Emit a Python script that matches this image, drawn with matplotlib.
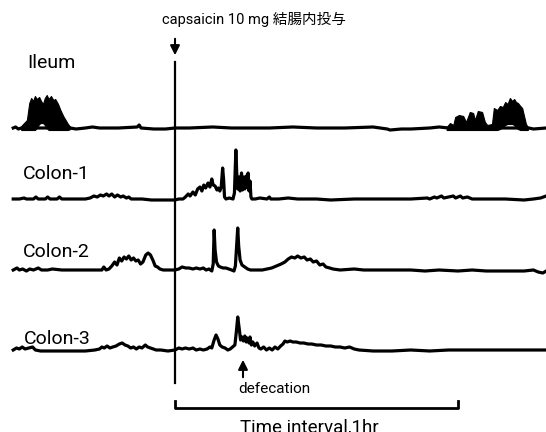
import numpy as np
import matplotlib
matplotlib.use("Agg")
import matplotlib.pyplot as plt

plt.rcParams['font.family'] = ['Roboto', 'Noto Sans CJK JP', 'DejaVu Sans']

# время в минутах от введения капсаицина, амплитуда в условных единицах
ileum_t = [-34.3, -33.8, -33.2, -32.6, -22.2, -21.0, -19.0, -17.5, -16.0, -12.0, -8.0, -7.6, -7.2,
           -4.5, -2.0, 0, 3, 8, 12, 20, 25, 30, 36, 42, 45, 45.6, 48, 50, 54, 56, 58, 75, 76, 78.7]
ileum_v = [0, 1, -1, 0, 0, -1, 0, 1, 0, 0, 1, 3, 0,
           -1, -1, 0, 0, 1, 0, 0, 1, 0, 0, 1, -1, -2, -1, -1, 0, 1, 0, 0, -1, 0]

# пачки сокращений подвздошной кишки (огибающие)
burst1_t = [-32.6, -32.0, -31.4, -30.9, -30.5, -30.1, -29.7, -29.3, -28.8, -28.4, -28.0, -27.6,
            -27.2, -26.8, -26.3, -25.8, -25.4, -24.8, -24.3, -23.7, -23.2, -22.7, -22.2]
burst1_hi = [2, 5, 8, 25, 30, 27, 32, 29, 31, 27, 24, 30,
             33, 29, 32, 28, 29, 24, 18, 12, 8, 4, 1]
burst1_lo = [-2, -2, -2, -2, -2, -2, -2, 0, 4, 5, 5, 3,
             0, -2, -2, -2, -2, -2, -2, -2, -2, -2, -1]

burst2_t = [57.6, 58.3, 59.0, 59.4, 60.2, 61.1, 61.7, 62.5, 63.2, 63.6, 64.2, 65.1, 65.7,
            66.2, 67.2, 67.6, 68.3, 68.9, 69.5, 70.0, 70.5, 71.0, 71.5, 71.9, 72.3, 72.7, 73.2,
            73.6, 74.0, 74.4, 74.8]
burst2_hi = [1, 5, 3, 11, 13, 12, 6, 16, 15, 8, 17, 16, 6,
             3, 4, 20, 18, 22, 21, 26, 24, 30, 27, 29, 26, 25, 22,
             20, 12, 4, 1]
burst2_lo = [-2, -2, -2, -2, -2, -2, -2, -2, -2, -2, -2, -2, -2,
             -2, -2, -2, -2, -1, 1, 3, 4, 4, 4, 3, 1, -1, -2,
             -2, -2, -2, -2]

colon1_t = [-34.3, -33.0, -32.0, -31.5, -30.0, -29.5, -29.0, -27.5, -27.0, -26.5, -25.0, -24.5,
            -24.0, -21.0, -19.0, -18.0, -17.2, -16.5, -15.8, -15.2, -14.5, -14.0, -13.4, -12.8,
            -12.2, -11.5, -11.0, -10.3, -9.8, -9.3, -7.0, -5.0, -3.0, -1.0, 0, 0.8, 1.7, 2.2,
            2.8, 3.2, 3.8, 4.3, 4.8, 5.3, 5.7, 6.1, 6.5, 7.0, 7.4, 7.8, 8.1, 8.5, 8.9, 9.2,
            9.5, 9.8, 10.1, 10.3, 10.5, 10.8, 11.5, 12.3, 12.6, 12.9, 13.1, 13.3, 13.6, 13.8,
            14.1, 14.3, 14.6, 14.8, 15.1, 15.3, 15.5, 15.7, 15.9, 16.1, 16.3, 17.0, 18.0, 19.5,
            20.0, 20.3, 22, 24, 26, 30, 33, 38, 45, 50, 53.5, 54, 55, 55.5, 56.5, 57, 58, 59,
            59.5, 60.5, 61, 62, 63, 66, 70, 74, 76, 77.5, 78.7]
colon1_v = [0, 0, 1, 0, 0, 2, 0, 0, 2, 0, 0, 2,
            0, 0, 0, 1, 3, 2, 4, 3, 5, 3, 5, 2,
            4, 2, 3, 1, 2, 0, 0, -1, -1, -1, -1, 0, 0, 2,
            5, 3, 7, 4, 10, 12, 8, 14, 11, 16, 12, 20, 14, 13, 9, 11,
            8, 12, 31, 20, 2, 0, 1, 0, 6, 49, 25, 10, 22, 8,
            26, 9, 22, 10, 23, 12, 26, 8, 18, 2, 0, 0, 1, 0,
            2, 0, 0, 1, 0, 0, -1, 0, 0, 0, 1, 0, 2, 1, 3, 1, 2, 3,
            1, 3, 1, 2, 0, 0, 0, -1, 0, 1, 3]

colon2_t = [-34.3, -33.5, -33.0, -32.3, -31.5, -30.8, -30.0, -29.0, -28.3, -27.0, -26.0, -24.0,
            -20.0, -17.0, -15.5, -15.1, -14.6, -14.0, -13.4, -12.8, -12.3, -11.8, -11.3, -10.8,
            -10.3, -9.8, -9.3, -8.8, -8.3, -7.8, -7.3, -6.8, -6.2, -5.7, -5.2, -4.7, -4.2, -3.7,
            -3.2, -2.5, -1.5, 0, 0.8, 1.5, 2.3, 3.0, 3.8, 4.5, 5.3, 6.0, 6.6, 7.2, 7.8, 8.1,
            8.3, 8.5, 8.8, 9.2, 9.6, 10.2, 10.8, 11.4, 12.0, 12.5, 12.8, 13.3, 13.5, 13.8, 14.2,
            14.8, 15.4, 16.0, 17, 18.5, 19.5, 20.5, 21.5, 22.5, 23.3, 24.0, 24.7, 25.4, 26.0,
            26.7, 27.4, 28.0, 28.7, 29.3, 30.0, 30.7, 31.4, 32.0, 32.8, 33.5, 35, 38, 40, 45,
            50, 53, 56, 60, 63, 66, 70, 74, 76, 77.0, 78.0, 78.7]
colon2_v = [0, 2, 0, 1, -1, 1, 0, 2, 0, 0, 1, 0,
            0, 0, 0, 3, 0, 1, 4, 8, 5, 12, 9, 13,
            11, 14, 10, 12, 9, 10, 6, 8, 15, 17, 15, 10, 4, 3,
            1, 0, 0, 0, 1, 3, 2, 2, 1, 2, 1, 2, 0, 1, -1, 6,
            40, 20, 8, 4, 3, 2, 2, 1, 0, -1, 4, 42, 24, 10, 5,
            3, 1, 0, 0, 0, 1, 2, 4, 6, 8, 11, 13, 12, 14,
            12, 13, 10, 11, 8, 9, 5, 6, 3, 2, 1, 0, 1, 0, 0,
            0, -1, 0, -1, 0, -1, -1, -1, 0, -2, -3, -1]

colon3_t = [-34.3, -33.6, -33.0, -32.4, -31.8, -31.0, -30.2, -29.6, -28.5, -26, -22, -19, -17,
            -16.0, -15.5, -15.0, -14.4, -13.8, -13.2, -12.5, -11.8, -11.2, -10.6, -10.0, -9.4,
            -8.8, -8.2, -7.6, -7.0, -6.3, -5.8, -5.2, -4.6, -4.0, -3.0, -1.5, 0, 0.8, 1.5, 2.2,
            3.0, 3.8, 4.5, 5.3, 6.0, 6.8, 7.4, 7.8, 8.3, 8.7, 9.1, 9.5, 10.0, 10.6, 11.2, 11.7,
            12.2, 12.7, 13.0, 13.3, 13.6, 13.9, 14.2, 14.5, 14.8, 15.1, 15.3, 15.7, 15.9, 16.2,
            16.5, 16.9, 17.4, 17.8, 18.2, 18.8, 19.4, 20.0, 20.6, 21.2, 21.8, 22.4, 22.9, 23.3,
            23.8, 24.4, 25.0, 25.7, 26.5, 27.3, 28.2, 29.0, 30.0, 31.0, 32.0, 33.0, 34.0, 35.0,
            36.0, 37.0, 38.0, 39.0, 42, 46, 50, 54, 58, 62, 66, 70, 74, 78.7]
colon3_v = [0, 2, 1, 3, 1, 2, 3, 0, -1, -1, -1, -1, 0,
            1, 3, 2, 4, 2, 3, 4, 6, 7, 5, 4, 2,
            3, 1, 3, 2, 5, 3, 2, 1, 0, 0, -1, 0, 2, 1, 2,
            1, 2, 0, 1, 0, 1, 3, 2, 10, 15, 11, 5, 3, 2, 0, 1,
            3, 5, 18, 33, 22, 10, 13, 9, 14, 8, 12, 7, 13, 5,
            8, 4, 7, 2, 1, 3, 0, 2, 0, 3, 1, 4, 6, 9,
            8, 9, 8, 8, 7, 7, 6, 6, 5, 5, 4, 4, 3, 3,
            2, 3, 1, 0, -1, -1, 0, -1, 0, 0, 0, 0, 0, 0]

# раскладка: 1 час = 283 px, базовые линии каналов в пикселях снизу
px_per_min = 283 / 60
x0 = -175 / px_per_min
x1 = (546 - 175) / px_per_min
base_ileum, base_c1, base_c2, base_c3 = 304, 233, 162, 82

fig = plt.figure(figsize=(5.46, 4.32), dpi=100, facecolor='white')
ax = fig.add_axes([0, 0, 1, 1])
ax.set_xlim(x0, x1)
ax.set_ylim(0, 432)
ax.axis('off')

lw = 2.3
ax.plot(ileum_t, np.array(ileum_v) + base_ileum, color='black', lw=lw)
ax.fill_between(burst1_t, np.array(burst1_lo) + base_ileum, np.array(burst1_hi) + base_ileum,
                color='black', lw=0.8)
ax.fill_between(burst2_t, np.array(burst2_lo) + base_ileum, np.array(burst2_hi) + base_ileum,
                color='black', lw=0.8)
ax.plot(colon1_t, np.array(colon1_v) + base_c1, color='black', lw=lw)
ax.plot(colon2_t, np.array(colon2_v) + base_c2, color='black', lw=lw)
ax.plot(colon3_t, np.array(colon3_v) + base_c3, color='black', lw=lw)

# линия момента введения
ax.plot([0, 0], [49, 370], color='black', lw=1.6)
ax.annotate('', xy=(0, 374), xytext=(0, 396),
            arrowprops=dict(arrowstyle='-|>', color='black', lw=1.5, mutation_scale=14))
ax.text(-2.76, 413, 'capsaicin 10 mg 結腸内投与', fontsize=10.5, ha='left', va='center')

# дефекация
t_def = (243 - 175) / px_per_min
ax.annotate('', xy=(t_def, 75), xytext=(t_def, 52),
            arrowprops=dict(arrowstyle='-|>', color='black', lw=1.5, mutation_scale=14))
ax.text(13.4, 43, 'defecation', fontsize=11, ha='left', va='center')

# шкала времени
ax.plot([0, 0, 60, 60], [31, 24, 24, 31], color='black', lw=2.0)
ax.text(13.8, 14, 'Time interval,1hr', fontsize=13.5, ha='left', va='top')

# подписи каналов
ax.text(-31.4, 369, 'Ileum', fontsize=14, ha='left', va='center')
ax.text(-32.2, 258, 'Colon-1', fontsize=14, ha='left', va='center')
ax.text(-32.2, 180, 'Colon-2', fontsize=14, ha='left', va='center')
ax.text(-32.0, 93, 'Colon-3', fontsize=14, ha='left', va='center')

fig.savefig('out.png', dpi=100, facecolor='white')
